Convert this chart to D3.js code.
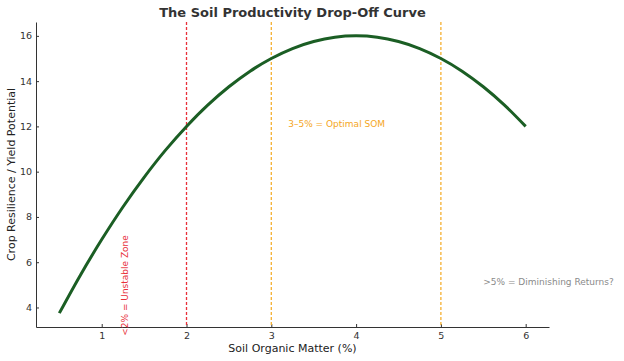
<!DOCTYPE html>
<html><head><meta charset="utf-8">
<script src="https://cdn.jsdelivr.net/npm/d3@7"></script>
<style>body{margin:0;background:#fff}svg{display:block}text{font-family:"DejaVu Sans",sans-serif}</style>
</head><body>
<script>
const somX = [0.5,0.75,1,1.25,1.5,1.75,2,2.25,2.5,2.75,3,3.25,3.5,3.75,4,4.25,4.5,4.75,5,5.25,5.5,5.75,6];
const resilienceY = [3.75,5.44,7,8.44,9.75,10.94,12,12.94,13.75,14.44,15,15.44,15.75,15.94,16,15.94,15.75,15.44,15,14.44,13.75,12.94,12];
const xTicks = [1,2,3,4,5,6];
const yTicks = [4,6,8,10,12,14,16];
const thresholds = [{x:2,color:"#e8303a"},{x:3,color:"#f5b030"},{x:5,color:"#f5b030"}];
const notes = [
  {text:"<2% = Unstable Zone", x:1.2, y:2.75, color:"#e8303a", rotate:true},
  {text:"3–5% = Optimal SOM", x:3.2, y:12.05, color:"#f5a623", rotate:false},
  {text:">5% = Diminishing Returns?", x:5.5, y:5.08, color:"#8a8a8a", rotate:false}
];

const W=624,H=361, m={l:36,r:75,t:22,b:34};
const svg=d3.select("body").append("svg").attr("width",W).attr("height",H);
const x=d3.scaleLinear().domain([0.225,6.275]).range([m.l,W-m.r]);
const y=d3.scaleLinear().domain([3.1375,16.6125]).range([H-m.b,m.t]);

const xa=svg.append("g").attr("transform",`translate(0,${H-m.b})`)
  .call(d3.axisBottom(x).tickValues(xTicks).tickFormat(d3.format("d")).tickSizeInner(-3).tickSizeOuter(0).tickPadding(5));
const ya=svg.append("g").attr("transform",`translate(${m.l},0)`)
  .call(d3.axisLeft(y).tickValues(yTicks).tickFormat(d3.format("d")).tickSizeInner(-3).tickSizeOuter(0).tickPadding(4));
[xa,ya].forEach(a=>{
  a.select(".domain").attr("stroke","#333").attr("stroke-width",1);
  a.selectAll(".tick line").attr("stroke","#333");
  a.selectAll(".tick text").attr("fill","#333").attr("font-size",9.5).attr("font-family","DejaVu Sans");
});

thresholds.forEach(t=>{
  svg.append("line").attr("x1",x(t.x)).attr("x2",x(t.x)).attr("y1",m.t).attr("y2",H-m.b)
    .attr("stroke",t.color).attr("stroke-width",1.3).attr("stroke-dasharray","3,2");
});

const pts=somX.map((v,i)=>[v,resilienceY[i]]);
svg.append("path").datum(pts).attr("fill","none").attr("stroke","#1b5e24").attr("stroke-width",3)
  .attr("d",d3.line().x(d=>x(d[0])).y(d=>y(d[1])).curve(d3.curveCatmullRom));

notes.forEach(n=>{
  const t=svg.append("text").attr("fill",n.color).attr("font-size",9).text(n.text);
  if(n.rotate){
    t.attr("transform",`translate(${x(n.x)+9},${y(n.y)}) rotate(-90)`);
  } else {
    t.attr("x",x(n.x)).attr("y",y(n.y)+2);
  }
});

svg.append("text").attr("x",(m.l+W-m.r)/2+0).attr("y",17).attr("text-anchor","middle")
  .attr("font-size",13).attr("font-weight","bold").attr("fill","#333").text("The Soil Productivity Drop-Off Curve");
svg.append("text").attr("x",(m.l+W-m.r)/2).attr("y",352).attr("text-anchor","middle")
  .attr("font-size",11).attr("fill","#222").text("Soil Organic Matter (%)");
svg.append("text").attr("transform",`translate(15,${(m.t+H-m.b)/2}) rotate(-90)`).attr("text-anchor","middle")
  .attr("font-size",11).attr("fill","#222").text("Crop Resilience / Yield Potential");
</script>
</body></html>
